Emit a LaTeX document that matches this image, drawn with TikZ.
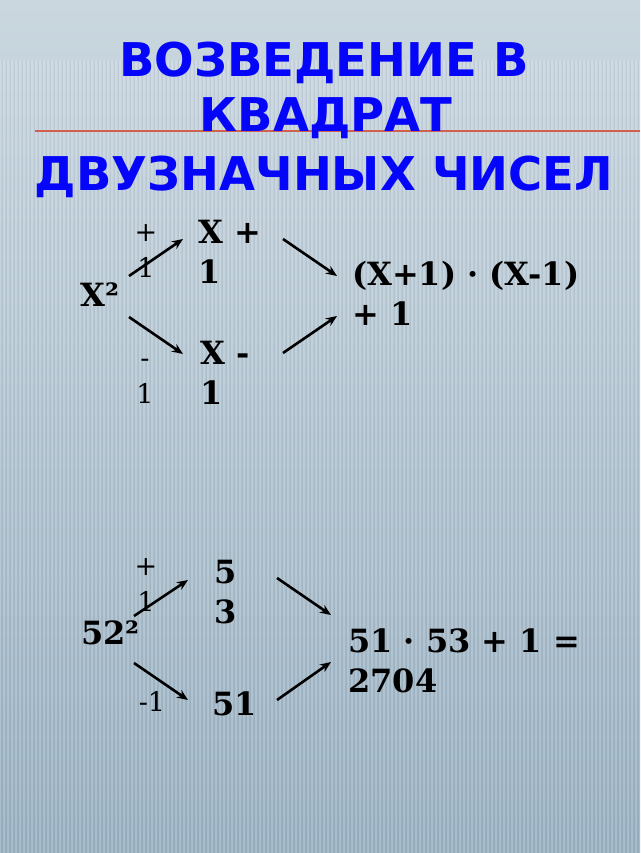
\documentclass[tikz,border=0pt]{standalone}
\usepackage{fontspec}
\setmainfont{DejaVu Serif}
\newfontfamily\titlefont{DejaVu Sans}
\usetikzlibrary{arrows.meta}
\definecolor{bgtop}{RGB}{202,215,223}
\definecolor{bgmid}{RGB}{183,201,212}
\definecolor{bgbot}{RGB}{150,174,190}
\definecolor{titleblue}{RGB}{5,5,250}
\definecolor{redline}{RGB}{208,96,80}
\tikzset{
  bignum/.style={inner sep=0pt, anchor=base west, align=left,
     font=\fontsize{32}{40}\selectfont\bfseries},
  smalllab/.style={inner sep=0pt, anchor=base, align=center,
     font=\fontsize{27}{36}\selectfont},
  titletext/.style={inner sep=0pt, anchor=base, text=titleblue,
     font=\titlefont\fontsize{46.5}{56}\selectfont\bfseries},
  arr/.style={line width=2.6pt, -{Stealth[length=11pt,width=9pt]}}
}
\begin{document}
\begin{tikzpicture}[x=1pt,y=-1pt]
\useasboundingbox (0,0) rectangle (640,853);
% background
\shade[top color=bgtop, middle color=bgmid, bottom color=bgbot] (0,0) rectangle (640,853);
\foreach \i in {0,4,...,640}{
  \draw[white, opacity=0.18, line width=1.4pt] (\i,60) -- (\i,853);
}
\foreach \i in {2,6,...,640}{
  \draw[black!40!blue!30!gray, opacity=0.06, line width=1pt] (\i,60) -- (\i,853);
}
% red rule
\draw[redline, line width=2pt] (35,131) -- (640,131);
% title
\node[titletext] (t1) at (324,77) {ВОЗВЕДЕНИЕ В};
\node[titletext] (t2) at (326,132) {КВАДРАТ};
\node[titletext] (t3) at (324,190) {ДВУЗНАЧНЫХ ЧИСЕЛ};

% ---- diagram 1 ----
\node[bignum] (x2) at (80,306) {X²};
\node[bignum] (xp) at (198,283) {X +\\1};
\node[bignum] (xm) at (200,404) {X -\\1};
\node[bignum] (r1) at (352,325) {(X+1) · (X-1)\\+ 1};
\node[smalllab] (lp1) at (146,277) {+\\1};
\node[smalllab] (lm1) at (145,403) {-\\1};
\coordinate (a1s) at (129,276); \coordinate (a1e) at (183,239);
\coordinate (a2s) at (129,317); \coordinate (a2e) at (183,354);
\coordinate (a3s) at (283,239); \coordinate (a3e) at (337,276);
\coordinate (a4s) at (283,353); \coordinate (a4e) at (337,316);
\draw[arr] (a1s) -- (a1e);
\draw[arr] (a2s) -- (a2e);
\draw[arr] (a3s) -- (a3e);
\draw[arr] (a4s) -- (a4e);

% ---- diagram 2 ----
\node[bignum] (n52) at (81,644) {52²};
\node[bignum] (n53) at (214,623) {5\\3};
\node[bignum] (n51) at (212,715) {51};
\node[bignum] (r2) at (348,692) {51 · 53 + 1 =\\2704};
\node[smalllab] (lp2) at (146,611) {+\\1};
\node[smalllab] (lm2) at (152,711) {-1};
\coordinate (b1s) at (134,616); \coordinate (b1e) at (188,580);
\coordinate (b2s) at (134,663); \coordinate (b2e) at (188,700);
\coordinate (b3s) at (277,578); \coordinate (b3e) at (331,615);
\coordinate (b4s) at (277,700); \coordinate (b4e) at (331,662);
\draw[arr] (b1s) -- (b1e);
\draw[arr] (b2s) -- (b2e);
\draw[arr] (b3s) -- (b3e);
\draw[arr] (b4s) -- (b4e);
\end{tikzpicture}
\end{document}
